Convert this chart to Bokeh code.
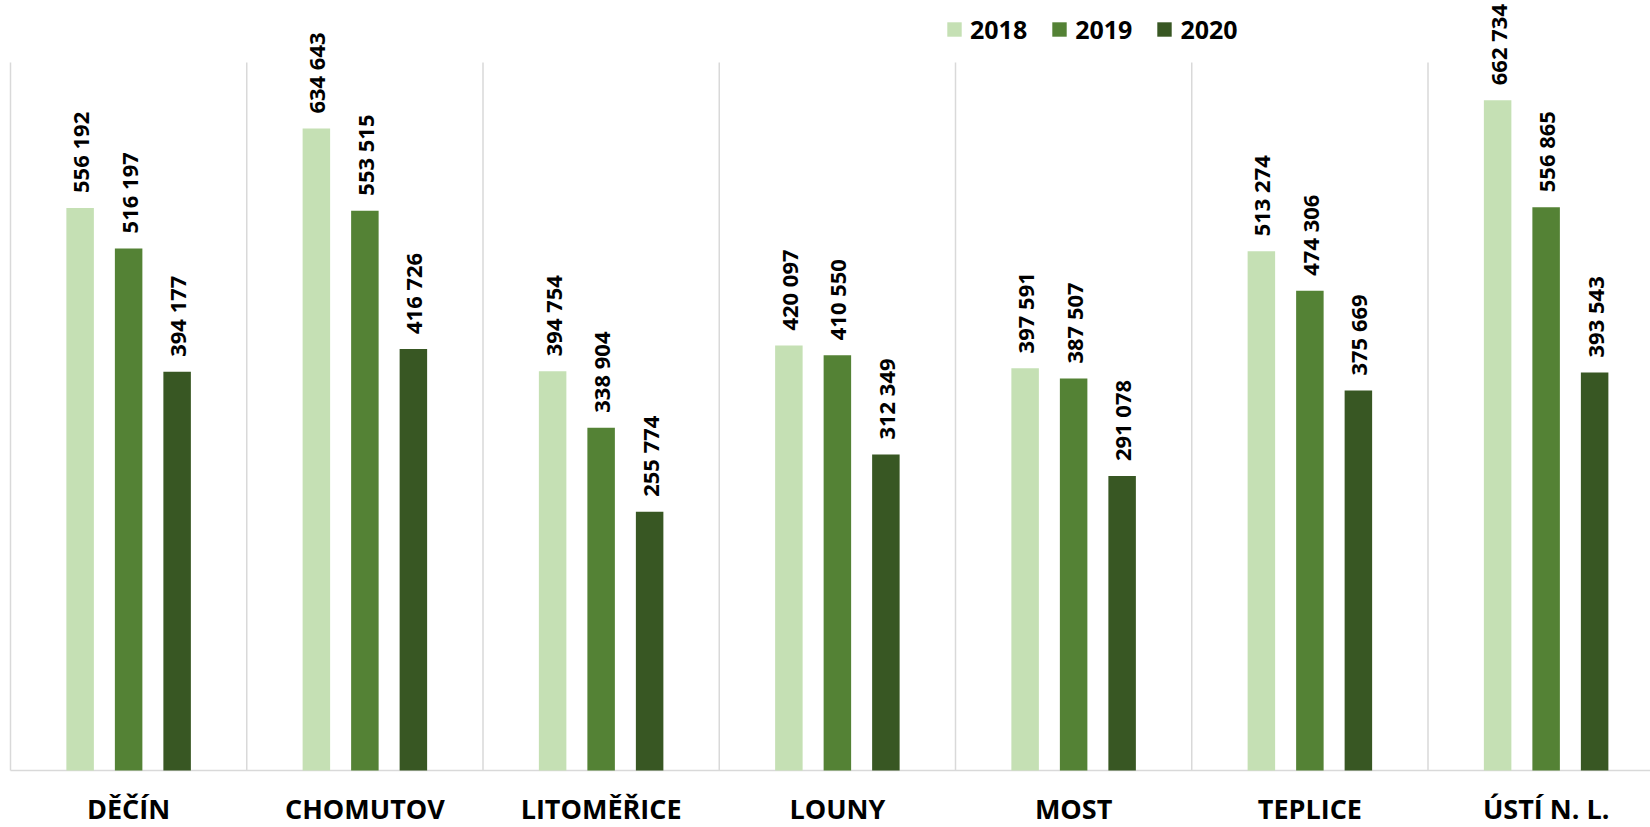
import math
from bokeh.plotting import figure
from bokeh.models import ColumnDataSource, Range1d, LabelSet, Legend, LegendItem
from bokeh.transform import dodge
from bokeh.core.properties import value
from bokeh.embed import file_html
from bokeh.resources import INLINE

categories = ["DĚČÍN", "CHOMUTOV", "LITOMĚŘICE", "LOUNY", "MOST", "TEPLICE", "ÚSTÍ N. L."]
years = ["2018", "2019", "2020"]
v2018 = [556192, 634643, 394754, 420097, 397591, 513274, 662734]
v2019 = [516197, 553515, 338904, 410550, 387507, 474306, 556865]
v2020 = [394177, 416726, 255774, 312349, 291078, 375669, 393543]
colors = ["#C5E0B4", "#548235", "#385723"]
y_max = 700000

FONT = "Open Sans"


def fmt(v):
    return f"{v:,}".replace(",", " ")


n = len(categories)
pos = [i + 0.5 for i in range(n)]
src = ColumnDataSource(dict(
    x=pos, cat=categories, base=[0] * n,
    v2018=v2018, v2019=v2019, v2020=v2020,
    l2018=[fmt(v) for v in v2018],
    l2019=[fmt(v) for v in v2019],
    l2020=[fmt(v) for v in v2020],
))
bounds = list(range(n + 1))
sep_src = ColumnDataSource(dict(x=bounds, y0=[0] * (n + 1), y1=[y_max] * (n + 1)))

W, H = 1650, 827
cat_w = 236.25          # px per category
left_px = 10            # page x of first category boundary
base_px = 770           # page y of the baseline
top_px = 62             # page y of y_max
upp = y_max / (base_px - top_px)   # data units per pixel

p = figure(width=W, height=H, output_backend="svg", toolbar_location=None,
           x_range=Range1d(-left_px / cat_w, (W - left_px) / cat_w),
           y_range=Range1d(-(H - base_px) * upp, base_px * upp),
           x_axis_location=None, y_axis_location=None,
           min_border_left=0, min_border_right=0, min_border_top=0, min_border_bottom=0)
p.outline_line_color = None
p.background_fill_color = "white"
p.border_fill_color = "white"
p.xgrid.visible = False
p.ygrid.visible = False

# category separators and baseline
p.segment(x0="x", y0="y0", x1="x", y1="y1", source=sep_src,
          line_color="#D9D9D9", line_width=1.5)
p.segment(x0=[0], y0=[0], x1=[n], y1=[0], line_color="#D9D9D9", line_width=1.5)

offsets = [-0.2053, 0.0, 0.2053]
bw = 27.5 / cat_w
renderers = []
for yr, off, col in zip(years, offsets, colors):
    r = p.vbar(x=dodge("x", off), top="v" + yr, width=bw, source=src,
               fill_color=col, line_color=None)
    renderers.append(r)
    lab = LabelSet(x=dodge("x", off), y="v" + yr, text="l" + yr, source=src,
                   angle=math.pi / 2, text_align="left", text_baseline="middle",
                   y_offset=15, text_font=value(FONT), text_font_style="bold",
                   text_font_size="22px", text_color="#000000")
    p.add_layout(lab)

cat_labels = LabelSet(x="x", y="base", text="cat", source=src,
                      text_align="center", text_baseline="alphabetic",
                      y_offset=-48.5, text_font=value(FONT), text_font_style="bold",
                      text_font_size="27px", text_color="#000000")
p.add_layout(cat_labels)

legend = Legend(items=[LegendItem(label=yr, renderers=[r]) for yr, r in zip(years, renderers)],
                orientation="horizontal", location=(945, 781),
                glyph_width=18, glyph_height=18, label_standoff=7, spacing=23,
                padding=0, margin=0, border_line_color=None, background_fill_alpha=0,
                label_text_font=FONT, label_text_font_style="bold",
                label_text_font_size="25px", label_text_color="#000000")
p.add_layout(legend)

open("out.html", "w", encoding="utf-8").write(file_html(p, INLINE))
